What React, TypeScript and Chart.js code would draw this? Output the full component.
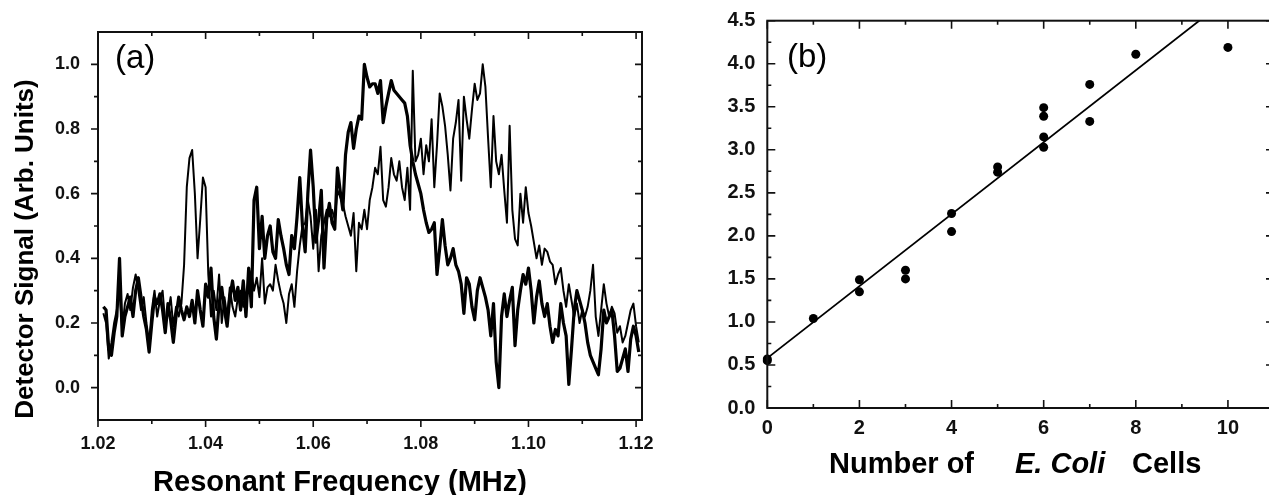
import React, { useEffect, useRef } from "react";
import { Chart, registerables } from "chart.js";

Chart.register(...registerables);

const FONT = '"Liberation Sans", Arial, Helvetica, sans-serif';

// ---------- Panel (a): resonance spectra ----------
const FREQ_START = 1.021;
const FREQ_STEP = 0.0005;

// thick trace (peak near 1.07 MHz)
const SIGNAL_A = [
  0.25, 0.24, 0.12, 0.10, 0.17, 0.22, 0.40, 0.16, 0.22, 0.25,
  0.28, 0.22, 0.30, 0.34, 0.28, 0.22, 0.18, 0.11, 0.20, 0.28,
  0.26, 0.29, 0.24, 0.17, 0.26, 0.21, 0.14, 0.22, 0.28, 0.24,
  0.21, 0.25, 0.22, 0.27, 0.20, 0.30, 0.24, 0.19, 0.32, 0.28,
  0.37, 0.22, 0.15, 0.26, 0.31, 0.24, 0.19, 0.28, 0.33, 0.27,
  0.31, 0.24, 0.33, 0.22, 0.37, 0.25, 0.58, 0.62, 0.43, 0.53,
  0.40, 0.47, 0.50, 0.42, 0.40, 0.52, 0.47, 0.43, 0.38, 0.35,
  0.47, 0.43, 0.53, 0.65, 0.50, 0.42, 0.60, 0.735, 0.62, 0.45,
  0.52, 0.61, 0.37, 0.52, 0.57, 0.51, 0.49, 0.68, 0.61, 0.55,
  0.72, 0.79, 0.82, 0.74, 0.80, 0.84, 0.83, 1.00, 0.96, 0.93,
  0.94, 0.94, 0.91, 0.95, 0.82, 0.87, 0.91, 0.95, 0.92, 0.91,
  0.90, 0.89, 0.88, 0.84, 0.75, 0.70, 0.66, 0.63, 0.60, 0.55,
  0.51, 0.48, 0.49, 0.51, 0.35, 0.43, 0.52, 0.44, 0.38, 0.40,
  0.43, 0.38, 0.36, 0.32, 0.23, 0.34, 0.32, 0.25, 0.21, 0.30,
  0.34, 0.31, 0.28, 0.24, 0.16, 0.26, 0.08, 0.00, 0.22, 0.29,
  0.22, 0.27, 0.31, 0.13, 0.24, 0.30, 0.35, 0.32, 0.37, 0.30,
  0.20, 0.28, 0.33, 0.26, 0.22, 0.26, 0.19, 0.14, 0.18, 0.16,
  0.26, 0.20, 0.16, 0.01, 0.12, 0.24, 0.30, 0.27, 0.24, 0.20,
  0.14, 0.10, 0.08, 0.06, 0.04, 0.12, 0.24, 0.20, 0.22, 0.24,
  0.16, 0.05, 0.06, 0.09, 0.12, 0.05, 0.15, 0.19, 0.16, 0.11,
];

// thin trace (peak near 1.09 MHz)
const SIGNAL_B = [
  0.23, 0.20, 0.09, 0.14, 0.20, 0.24, 0.30, 0.18, 0.26, 0.29,
  0.24, 0.31, 0.35, 0.30, 0.24, 0.28, 0.20, 0.14, 0.24, 0.30,
  0.22, 0.27, 0.30, 0.20, 0.23, 0.28, 0.19, 0.25, 0.22, 0.26,
  0.38, 0.62, 0.71, 0.735, 0.60, 0.40, 0.52, 0.65, 0.62, 0.35,
  0.22, 0.30, 0.24, 0.35, 0.20, 0.28, 0.22, 0.31, 0.25, 0.22,
  0.28, 0.30, 0.25, 0.29, 0.32, 0.36, 0.30, 0.34, 0.28, 0.40,
  0.26, 0.31, 0.32, 0.30, 0.38, 0.33, 0.29, 0.26, 0.20, 0.29,
  0.32, 0.25, 0.36, 0.44, 0.50, 0.51, 0.58, 0.53, 0.43, 0.55,
  0.36, 0.47, 0.51, 0.55, 0.53, 0.55, 0.52, 0.61, 0.59, 0.57,
  0.53, 0.50, 0.47, 0.54, 0.36, 0.51, 0.49, 0.55, 0.49, 0.58,
  0.62, 0.68, 0.66, 0.745, 0.58, 0.56, 0.62, 0.71, 0.66, 0.64,
  0.70, 0.62, 0.58, 0.68, 0.55, 0.98, 0.70, 0.72, 0.77, 0.66,
  0.75, 0.70, 0.83, 0.62, 0.75, 0.91, 0.87, 0.81, 0.72, 0.61,
  0.77, 0.82, 0.89, 0.64, 0.90, 0.83, 0.77, 0.86, 0.94, 0.89,
  0.91, 1.00, 0.93, 0.77, 0.62, 0.84, 0.70, 0.66, 0.72, 0.61,
  0.51, 0.81, 0.55, 0.46, 0.44, 0.60, 0.51, 0.62, 0.54, 0.50,
  0.45, 0.40, 0.44, 0.38, 0.43, 0.42, 0.39, 0.38, 0.32, 0.35,
  0.37, 0.30, 0.25, 0.32, 0.27, 0.22, 0.26, 0.20, 0.24, 0.22,
  0.25, 0.30, 0.38, 0.22, 0.16, 0.24, 0.32, 0.26, 0.22, 0.25,
  0.23, 0.17, 0.19, 0.14, 0.16, 0.20, 0.24, 0.26, 0.19, 0.14,
];

const A_X_TICKS = [1.02, 1.04, 1.06, 1.08, 1.1, 1.12];
const A_X_MINOR = [1.03, 1.05, 1.07, 1.09, 1.11];
const A_Y_TICKS = [0.0, 0.2, 0.4, 0.6, 0.8, 1.0];
const A_Y_MINOR = [0.1, 0.3, 0.5, 0.7, 0.9];

// ---------- Panel (b): signal vs number of cells ----------
const CELLS = [0, 0, 1, 2, 2, 3, 3, 4, 4, 5, 5, 6, 6, 6, 6, 7, 7, 8, 10];
const SIGNAL = [0.57, 0.55, 1.04, 1.49, 1.35, 1.60, 1.50, 2.26, 2.05, 2.80, 2.74, 3.49, 3.39, 3.15, 3.03, 3.76, 3.33, 4.11, 4.19];
const FIT_X = [0, 11];
const FIT_Y = [0.58, 5.178];

const B_X_TICKS = [0, 2, 4, 6, 8, 10];
const B_X_MINOR = [1, 3, 5, 7, 9];
const B_Y_TICKS = [0, 0.5, 1, 1.5, 2, 2.5, 3, 3.5, 4, 4.5];
const B_Y_MINOR = [0.25, 0.75, 1.25, 1.75, 2.25, 2.75, 3.25, 3.75, 4.25];

type TextItem = {
  text: string;
  x: number;
  y: number;
  font: string;
  align?: CanvasTextAlign;
  rotate?: boolean;
};

const framePlugin = {
  id: "frameTicks",
  afterDatasetsDraw(chart: any, _args: any, opts: any) {
    const { ctx, chartArea } = chart;
    const { left, right, top, bottom } = chartArea;
    const xs = chart.scales.x;
    const ys = chart.scales.y;
    ctx.save();
    ctx.strokeStyle = "#111";
    ctx.lineWidth = opts.tickWidth;
    ctx.beginPath();
    const seg = (x1: number, y1: number, x2: number, y2: number) => {
      ctx.moveTo(x1, y1);
      ctx.lineTo(x2, y2);
    };
    const doX = (vals: number[], len: number) => {
      for (const v of vals) {
        const p = xs.getPixelForValue(v);
        seg(p, bottom, p, bottom + (opts.bottomOut ? len : -len));
        seg(p, top, p, top + len);
      }
    };
    const doY = (vals: number[], len: number) => {
      for (const v of vals) {
        const p = ys.getPixelForValue(v);
        seg(left, p, left + (opts.leftOut ? -len : len), p);
        seg(right, p, right - len, p);
      }
    };
    doX(opts.xMajor, opts.majorLen);
    doX(opts.xMinor, opts.minorLen);
    doY(opts.yMajor, opts.majorLen);
    doY(opts.yMinor, opts.minorLen);
    ctx.stroke();
    ctx.lineWidth = opts.frameWidth;
    ctx.strokeRect(left, top, right - left, bottom - top);

    ctx.fillStyle = "#000";
    for (const t of opts.texts as TextItem[]) {
      ctx.save();
      ctx.font = t.font;
      ctx.textAlign = t.align || "left";
      ctx.textBaseline = "alphabetic";
      ctx.translate(t.x, t.y);
      if (t.rotate) ctx.rotate(-Math.PI / 2);
      ctx.fillText(t.text, 0, 0);
      ctx.restore();
    }
    ctx.restore();
  },
};

const tickFontA = { family: FONT, size: 18, weight: "bold" as const };
const tickFontB = { family: FONT, size: 20, weight: "bold" as const };

function fixedAxis(size: number, horizontal: boolean) {
  return (s: any) => {
    if (horizontal) s.height = size;
    else s.width = size;
    s.paddingLeft = 0;
    s.paddingRight = 0;
    s.paddingTop = 0;
    s.paddingBottom = 0;
  };
}

function setTicks(values: number[]) {
  return (s: any) => {
    s.ticks = values.map((v) => ({ value: v }));
  };
}

export default function App() {
  const refA = useRef<HTMLCanvasElement>(null);
  const refB = useRef<HTMLCanvasElement>(null);

  useEffect(() => {
    const specA = SIGNAL_A.map((v, i) => ({ x: FREQ_START + i * FREQ_STEP, y: v }));
    const specB = SIGNAL_B.map((v, i) => ({ x: FREQ_START + i * FREQ_STEP, y: v }));

    const chartA = new Chart(refA.current!, {
      type: "line",
      data: {
        datasets: [
          {
            data: specB,
            borderColor: "#000",
            borderWidth: 2.0,
            pointRadius: 0,
            tension: 0,
            borderJoinStyle: "round",
            fill: false,
          },
          {
            data: specA,
            borderColor: "#000",
            borderWidth: 3.2,
            pointRadius: 0,
            tension: 0,
            borderJoinStyle: "round",
            fill: false,
          },
        ],
      },
      options: {
        animation: false,
        responsive: false,
        devicePixelRatio: 1,
        layout: { padding: { left: 0, top: 32, right: 18, bottom: 0 } },
        plugins: {
          legend: { display: false },
          tooltip: { enabled: false },
          frameTicks: {
            xMajor: A_X_TICKS,
            xMinor: A_X_MINOR,
            yMajor: A_Y_TICKS,
            yMinor: A_Y_MINOR,
            majorLen: 7,
            minorLen: 4,
            bottomOut: true,
            leftOut: true,
            tickWidth: 1.6,
            frameWidth: 2,
            texts: [
              { text: "(a)", x: 115, y: 68, font: `33px ${FONT}` },
              { text: "Resonant Frequency (MHz)", x: 340, y: 491, font: `bold 29px ${FONT}`, align: "center" },
              { text: "Detector Signal (Arb. Units)", x: 33, y: 249, font: `bold 26px ${FONT}`, align: "center", rotate: true },
            ],
          },
        } as any,
        scales: {
          x: {
            type: "linear",
            min: 1.02,
            max: 1.1211,
            grid: { display: false, drawTicks: false },
            border: { display: false },
            ticks: {
              font: tickFontA,
              color: "#111",
              padding: 13,
              maxRotation: 0,
              callback: (v: any) => Number(v).toFixed(2),
            },
            afterBuildTicks: setTicks(A_X_TICKS),
            afterFit: fixedAxis(75, true),
          },
          y: {
            type: "linear",
            min: -0.1,
            max: 1.1,
            grid: { display: false, drawTicks: false },
            border: { display: false },
            ticks: {
              font: tickFontA,
              color: "#111",
              padding: 18,
              callback: (v: any) => Number(v).toFixed(1),
            },
            afterBuildTicks: setTicks(A_Y_TICKS),
            afterFit: fixedAxis(98, false),
          },
        },
      },
      plugins: [framePlugin],
    } as any);

    const points = CELLS.map((c, i) => ({ x: c, y: SIGNAL[i] }));
    const fit = FIT_X.map((x, i) => ({ x, y: FIT_Y[i] }));

    const chartB = new Chart(refB.current!, {
      type: "scatter",
      data: {
        datasets: [
          {
            data: fit,
            showLine: true,
            borderColor: "#000",
            borderWidth: 1.8,
            pointRadius: 0,
          },
          {
            data: points,
            backgroundColor: "#000",
            borderWidth: 0,
            pointRadius: 4.5,
            clip: false,
          },
        ],
      },
      options: {
        animation: false,
        responsive: false,
        devicePixelRatio: 1,
        layout: { padding: { left: 0, top: 20.7, right: 16, bottom: 0 } },
        plugins: {
          legend: { display: false },
          tooltip: { enabled: false },
          frameTicks: {
            xMajor: B_X_TICKS,
            xMinor: B_X_MINOR,
            yMajor: B_Y_TICKS,
            yMinor: B_Y_MINOR,
            majorLen: 8,
            minorLen: 4,
            bottomOut: false,
            leftOut: false,
            tickWidth: 1.6,
            frameWidth: 2,
            texts: [
              { text: "(b)", x: 107, y: 67, font: `33px ${FONT}` },
              { text: "Number of", x: 149, y: 473, font: `bold 29px ${FONT}` },
              { text: "E. Coli", x: 335, y: 473, font: `italic bold 29px ${FONT}` },
              { text: "Cells", x: 452, y: 473, font: `bold 29px ${FONT}` },
            ],
          },
        } as any,
        scales: {
          x: {
            type: "linear",
            min: 0,
            max: 11,
            grid: { display: false, drawTicks: false },
            border: { display: false },
            ticks: {
              font: tickFontB,
              color: "#111",
              padding: 8,
              maxRotation: 0,
              callback: (v: any) => String(v),
            },
            afterBuildTicks: setTicks(B_X_TICKS),
            afterFit: fixedAxis(87, true),
          },
          y: {
            type: "linear",
            min: 0,
            max: 4.5,
            grid: { display: false, drawTicks: false },
            border: { display: false },
            ticks: {
              font: tickFontB,
              color: "#111",
              padding: 12,
              callback: (v: any) => Number(v).toFixed(1),
            },
            afterBuildTicks: setTicks(B_Y_TICKS),
            afterFit: fixedAxis(87.3, false),
          },
        },
      },
      plugins: [framePlugin],
    } as any);

    return () => {
      chartA.destroy();
      chartB.destroy();
    };
  }, []);

  return (
    <div
      style={{
        position: "fixed",
        left: 0,
        top: 0,
        width: 1269,
        height: 495,
        background: "#fff",
        overflow: "hidden",
      }}
    >
      <div style={{ position: "absolute", left: 0, top: 0, width: 660, height: 495 }}>
        <canvas ref={refA} width={660} height={495} style={{ width: 660, height: 495, display: "block" }} />
      </div>
      <div style={{ position: "absolute", left: 680, top: 0, width: 589, height: 495, overflow: "hidden" }}>
        <canvas ref={refB} width={610} height={495} style={{ width: 610, height: 495, display: "block" }} />
      </div>
    </div>
  );
}
